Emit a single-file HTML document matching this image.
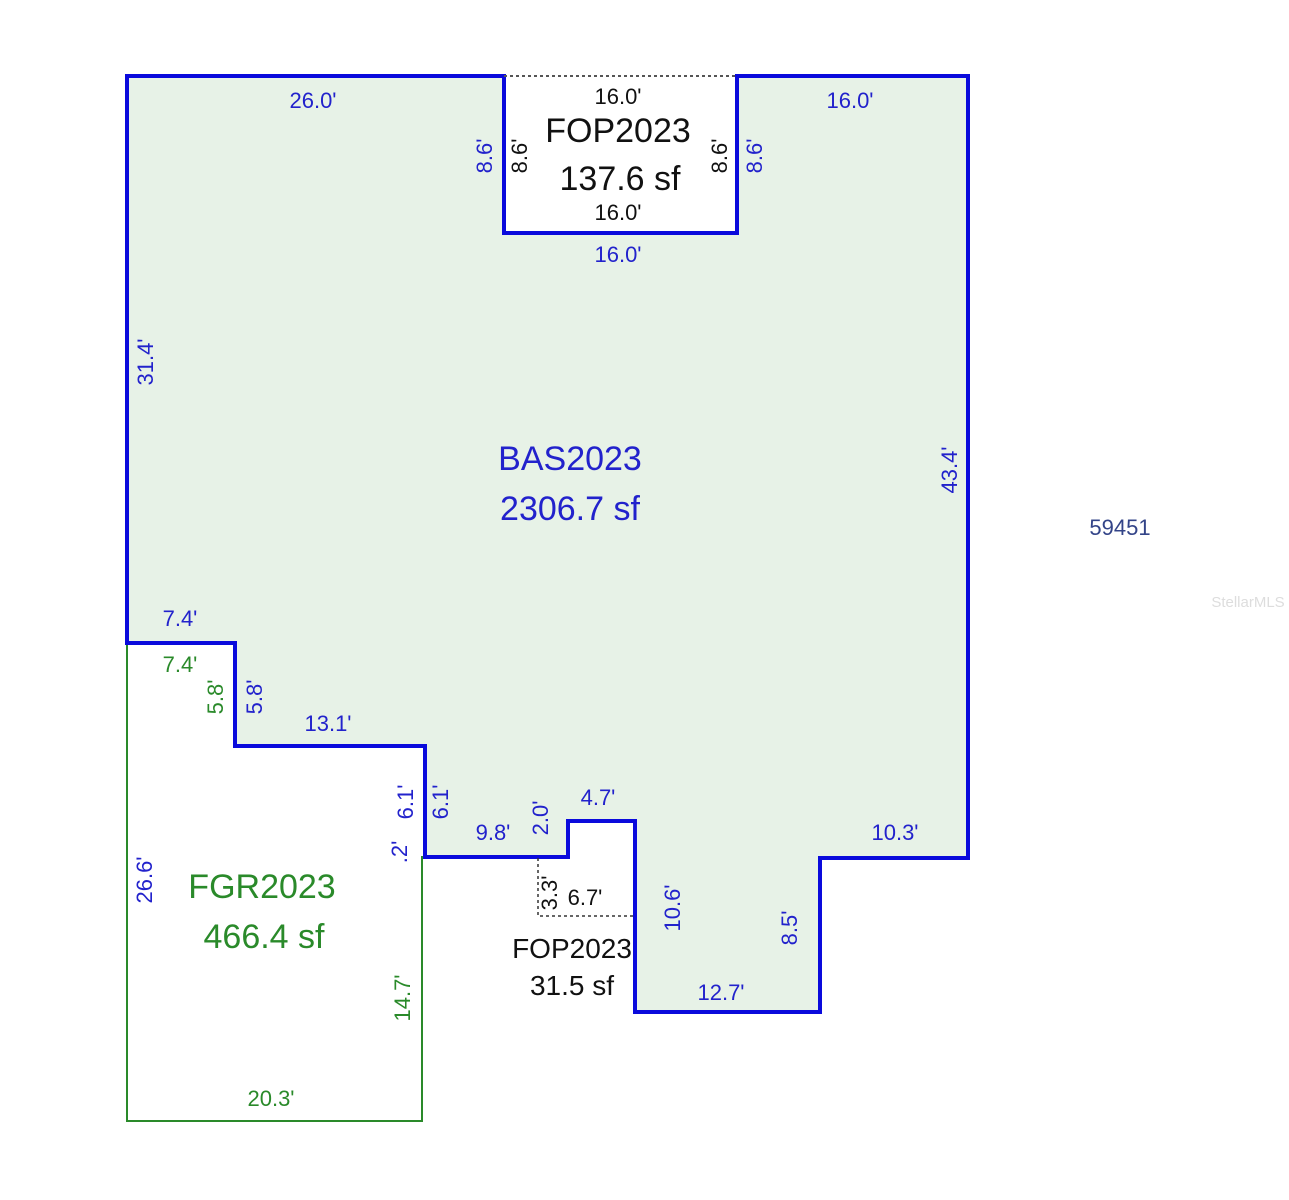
<!DOCTYPE html>
<html><head><meta charset="utf-8"><style>body{margin:0;background:#fff}svg{display:block}</style></head>
<body>
<svg width="1289" height="1200" viewBox="0 0 1289 1200" xmlns="http://www.w3.org/2000/svg" font-family="Liberation Sans, sans-serif">
<polygon points="127,643 235,643 235,746 425,746 425,857 422,857 422,1121 127,1121" fill="#fff" stroke="#2a8a2a" stroke-width="2"/>
<polygon points="127,76 504,76 504,233 737,233 737,76 968,76 968,858 820,858 820,1012 635,1012 635,821 568,821 568,857 425,857 425,746 235,746 235,643 127,643" fill="#e7f2e7" stroke="#0a0adc" stroke-width="4" stroke-linejoin="miter"/>
<line x1="504" y1="76" x2="737" y2="76" stroke="#555" stroke-width="2" stroke-dasharray="3,3"/>
<polyline points="538,858 538,916 635,916" fill="none" stroke="#333" stroke-width="1.5" stroke-dasharray="3,3"/>
<g font-size="22" fill="#2222cc" text-anchor="middle">
<text x="313" y="108">26.0'</text>
<text x="850" y="108">16.0'</text>
<text x="618" y="262">16.0'</text>
<text x="180" y="626">7.4'</text>
<text x="328" y="731">13.1'</text>
<text x="493" y="840">9.8'</text>
<text x="598" y="805">4.7'</text>
<text x="895" y="840">10.3'</text>
<text x="721" y="1000">12.7'</text>
<text x="570" y="470" font-size="34">BAS2023</text>
<text x="570" y="520" font-size="34">2306.7 sf</text>
<text x="1120" y="535" fill="#334488">59451</text>
<text transform="translate(153,362) rotate(-90)">31.4'</text>
<text transform="translate(957,470) rotate(-90)">43.4'</text>
<text transform="translate(492,156) rotate(-90)">8.6'</text>
<text transform="translate(762,156) rotate(-90)">8.6'</text>
<text transform="translate(262,697) rotate(-90)">5.8'</text>
<text transform="translate(448,802) rotate(-90)">6.1'</text>
<text transform="translate(413,802) rotate(-90)">6.1'</text>
<text transform="translate(548,818) rotate(-90)">2.0'</text>
<text transform="translate(680,908) rotate(-90)">10.6'</text>
<text transform="translate(797,928) rotate(-90)">8.5'</text>
<text transform="translate(152,880) rotate(-90)">26.6'</text>
<text transform="translate(407,852) rotate(-90)">.2'</text>
</g>
<g font-size="22" fill="#2a8a2a" text-anchor="middle">
<text x="180" y="672">7.4'</text>
<text x="271" y="1106">20.3'</text>
<text transform="translate(223,697) rotate(-90)">5.8'</text>
<text transform="translate(410,998) rotate(-90)">14.7'</text>
<text x="262" y="898" font-size="34">FGR2023</text>
<text x="264" y="948" font-size="34">466.4 sf</text>
</g>
<g font-size="22" fill="#111" text-anchor="middle">
<text x="618" y="104">16.0'</text>
<text x="618" y="220">16.0'</text>
<text x="618" y="142" font-size="34">FOP2023</text>
<text x="620" y="190" font-size="34">137.6 sf</text>
<text transform="translate(527,156) rotate(-90)">8.6'</text>
<text transform="translate(727,156) rotate(-90)">8.6'</text>
<text x="585" y="905">6.7'</text>
<text transform="translate(557,893) rotate(-90)">3.3'</text>
<text x="572" y="958" font-size="28">FOP2023</text>
<text x="572" y="995" font-size="28">31.5 sf</text>
</g>
<text x="1248" y="607" font-size="15" fill="#ddd" text-anchor="middle">StellarMLS</text>
</svg>
</body></html>
